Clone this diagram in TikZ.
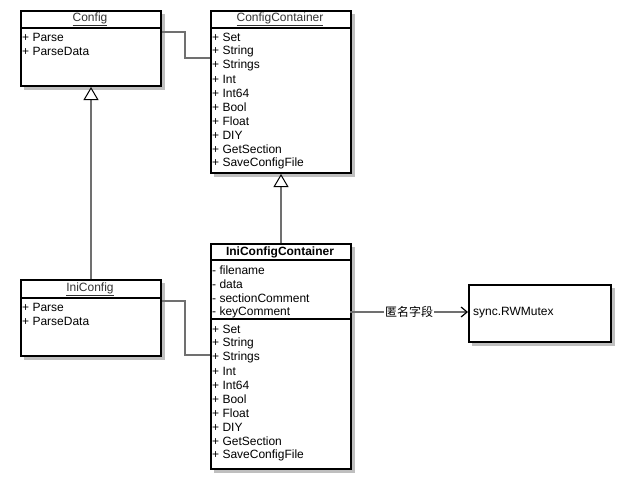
\documentclass[tikz,border=0pt]{standalone}
\usepackage{fontspec}
\setmainfont{Liberation Sans}
\newfontfamily\cjk{Noto Sans CJK SC}
\usetikzlibrary{arrows.meta}
\definecolor{shadowgray}{HTML}{BFBFBF}
\definecolor{linegray}{HTML}{707070}
\definecolor{titlegray}{HTML}{333333}
\tikzset{
  umlbox/.style={draw=black, line width=2pt, fill=white, inner sep=0pt, anchor=north west},
  umlshadow/.style={fill=shadowgray, draw=none},
  sepline/.style={draw=black, line width=1.6pt},
  member/.style={anchor=west, inner sep=0pt, font=\fontsize{12}{14}\selectfont},
  utitle/.style={inner sep=0pt, text=titlegray, font=\fontsize{12}{14}\selectfont},
  btitle/.style={inner sep=0pt, font=\fontsize{12}{14}\selectfont\bfseries},
  assoc/.style={draw=linegray, line width=1.2pt},
  inherit/.style={draw=linegray, line width=1.5pt, -{Triangle[open, length=13pt, width=15pt, color=black, fill=white, line width=1pt]}},
  dep/.style={draw=linegray, line width=1.2pt, -{Straight Barb[length=6pt, width=10pt, color=black, line width=1.2pt]}},
}
\begin{document}
\begin{tikzpicture}[x=1pt, y=-1pt]
\useasboundingbox (0,0) rectangle (630,488);
% shadows
\fill[umlshadow] (24,14) rectangle (165,90);
\fill[umlshadow] (214,14) rectangle (355,177);
\fill[umlshadow] (24,283) rectangle (165,360);
\fill[umlshadow] (214,247) rectangle (355,473);
\fill[umlshadow] (472,288) rectangle (615,346);
% boxes
\node[umlbox, minimum width=140pt, minimum height=75pt] (config) at (20,10) {};
\node[umlbox, minimum width=140pt, minimum height=162pt] (cc) at (210,10) {};
\node[umlbox, minimum width=140pt, minimum height=76pt] (ini) at (20,279) {};
\node[umlbox, minimum width=140pt, minimum height=225pt] (icc) at (210,243) {};
\node[umlbox, minimum width=142pt, minimum height=57pt] (mutex) at (468,284) {};
% separators
\draw[sepline] (20,28) -- (160,28);
\draw[sepline] (210,28) -- (350,28);
\draw[sepline] (20,298) -- (160,298);
\draw[sepline] (210,260) -- (350,260);
\draw[sepline] (210,319) -- (350,319);
% titles
\node[utitle] (configT) at (90,19) {\underline{Config}};
\node[utitle] (ccT) at (280,19) {\underline{ConfigContainer}};
\node[utitle] (iniT) at (90,289) {\underline{IniConfig}};
\node[btitle] (iccT) at (280,252) {IniConfigContainer};
% Config members
\node[member] (c1) at (22,37) {+ Parse};
\node[member] (c2) at (22,51) {+ ParseData};
% ConfigContainer members
\foreach \t [count=\i from 0] in {Set,String,Strings,Int,Int64,Bool,Float,DIY,GetSection,SaveConfigFile}
  \node[member] (cc\i) at (212,{37+14*\i}) {+ \t};
% IniConfig members
\node[member] (i1) at (22,307) {+ Parse};
\node[member] (i2) at (22,321) {+ ParseData};
% IniConfigContainer attributes
\foreach \t [count=\i from 0] in {filename,data,sectionComment,keyComment}
  \node[member] (ia\i) at (212,{270+14*\i}) {- \t};
\foreach \t [count=\i from 0] in {Set,String,Strings,Int,Int64,Bool,Float,DIY,GetSection,SaveConfigFile}
  \node[member] (im\i) at (212,{329+14*\i}) {+ \t};
% mutex text
\node[member] (mutexT) at (473,313) {sync.RWMutex};
% associations
\coordinate (a1) at (185,32);
\coordinate (a2) at (185,58);
\draw[assoc] (config.east |- a1) -- (a1) -- (a2) -- (cc.west |- a2);
\coordinate (b1) at (185,301);
\coordinate (b2) at (185,355);
\draw[assoc] (ini.east |- b1) -- (b1) -- (b2) -- (icc.west |- b2);
% inheritance
\draw[inherit] (ini.north -| config.south) -- (config.south);
\draw[inherit] (icc.north) -- (cc.south);
% dependency
\coordinate (d1) at (350,312);
\draw[dep] (d1) -- (mutex.west |- d1)
  node[pos=0.5, fill=white, inner sep=1pt, font=\cjk\fontsize{12}{14}\selectfont] (lbl) {匿名字段};
\end{tikzpicture}
\end{document}
